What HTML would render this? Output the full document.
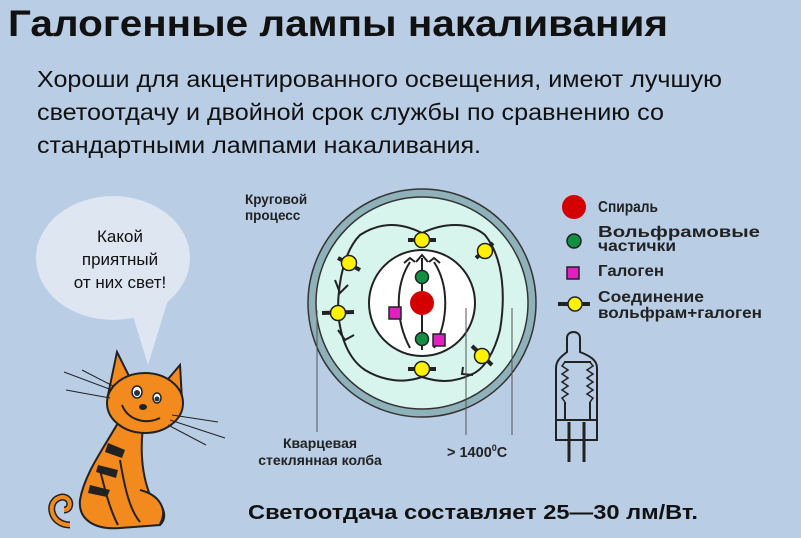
<!DOCTYPE html>
<html><head><meta charset="utf-8"><style>
body{margin:0;width:801px;height:538px;background:#b9cde5;overflow:hidden;font-family:"Liberation Sans","DejaVu Sans",sans-serif}
svg{position:absolute;left:0;top:0}
</style></head><body>
<svg width="801" height="538" xmlns="http://www.w3.org/2000/svg" font-family="'Liberation Sans','DejaVu Sans',sans-serif">
<text x="8" y="36" font-size="37" font-weight="bold" fill="#111" textLength="660" lengthAdjust="spacingAndGlyphs">Галогенные лампы накаливания</text>
<g font-size="23" fill="#111">
<text x="37" y="87" textLength="685" lengthAdjust="spacingAndGlyphs">Хороши для акцентированного освещения, имеют лучшую</text>
<text x="37" y="120" textLength="627" lengthAdjust="spacingAndGlyphs">светоотдачу и двойной срок службы по сравнению со</text>
<text x="37" y="153" textLength="444" lengthAdjust="spacingAndGlyphs">стандартными лампами накаливания.</text>
</g>

<!-- bubble -->
<ellipse cx="113" cy="258" rx="77" ry="62" fill="#dde6f1"/>
<polygon points="128,300 168,300 148,365" fill="#dde6f1"/>
<text font-size="17" fill="#111" text-anchor="middle"><tspan x="120" y="242">Какой</tspan><tspan x="120" y="265">приятный</tspan><tspan x="120" y="288">от них свет!</tspan></text>

<!-- cat -->
<g stroke="#222" stroke-width="2" fill="#f28a1e">
<path d="M70,525 C50,525 45,500 62,497 C72,497 72,510 64,510" fill="none" stroke-width="7" stroke="#222"/>
<path d="M70,525 C50,525 45,500 62,497 C72,497 72,510 64,510" fill="none" stroke-width="4" stroke="#f28a1e"/>
<path d="M125,410 C110,440 85,470 80,500 C78,520 95,530 120,528 L160,525 C170,515 160,500 150,495 C140,470 140,440 145,415 Z"/>
<path d="M100,470 C105,490 110,510 118,525 M120,460 C125,490 130,510 140,522"/>
<path d="M140,490 C160,495 168,510 160,524"/>
<path d="M108,395 L117,352 L130,378 Z"/>
<path d="M163,385 L180,365 L182,400 Z"/>
<ellipse cx="145" cy="403" rx="38" ry="30"/>
</g>
<g fill="#222"><path d="M108,443 L125,450 L122,458 L105,452 Z"/><path d="M98,465 L118,470 L116,478 L96,472Z"/><path d="M90,485 L110,490 L107,497 L88,493Z"/></g>
<ellipse cx="137" cy="392" rx="5" ry="6" fill="#fff" stroke="#222" stroke-width="1.5"/><circle cx="137" cy="393" r="3" fill="#234"/>
<ellipse cx="157" cy="398" rx="4" ry="5" fill="#fff" stroke="#222" stroke-width="1.5"/><circle cx="157" cy="399" r="2.5" fill="#234"/>
<ellipse cx="143" cy="407" rx="4" ry="3" fill="#222"/>
<path d="M122,405 C128,420 145,425 160,418" fill="none" stroke="#222" stroke-width="2"/>
<g stroke="#222" stroke-width="1"><line x1="64" y1="372" x2="112" y2="390"/><line x1="82" y1="370" x2="113" y2="386"/><line x1="66" y1="390" x2="110" y2="398"/><line x1="172" y1="415" x2="218" y2="422"/><line x1="170" y1="420" x2="225" y2="438"/><line x1="168" y1="425" x2="206" y2="445"/></g>

<!-- diagram -->
<text font-size="13.5" fill="#222" font-weight="bold"><tspan x="245" y="204">Круговой</tspan><tspan x="245" y="220">процесс</tspan></text>
<circle cx="422" cy="303" r="110" fill="#d7f5ec" stroke="#8fb1b9" stroke-width="7"/>
<circle cx="422" cy="303" r="114" fill="none" stroke="#333" stroke-width="1.5"/>
<circle cx="422" cy="303" r="106" fill="none" stroke="#333" stroke-width="1.5"/>
<circle cx="422" cy="303" r="53" fill="#fff" stroke="#222" stroke-width="2"/>
<g fill="none" stroke="#222" stroke-width="2">
<path d="M422,233 C400,222 380,222 360,235 C345,250 338,280 338,310 C340,340 350,360 365,370 C385,382 405,383 422,377"/>
<path d="M422,233 C445,222 470,222 485,235 C505,260 505,300 500,330 C495,350 485,370 470,375 C455,382 440,383 422,377"/>
<line x1="422" y1="258" x2="422" y2="350"/>
<path d="M410,262 C395,285 395,320 410,348"/>
<path d="M434,262 C449,285 449,320 434,348"/>
<path d="M404,263 L410,258 L415,262 M416,262 L422,255 L428,262 M429,262 L434,258 L440,263"/>
<path d="M335,280 L340,293 L348,285 M338,330 L345,340 L354,335 M463,367 L462,374 L473,375"/>
</g>
<g stroke="#222" stroke-width="4">
<line x1="408" y1="240" x2="436" y2="240"/><line x1="408" y1="369" x2="436" y2="369"/>
<line x1="338" y1="258" x2="360" y2="270"/><line x1="476" y1="258" x2="493" y2="243"/>
<line x1="322" y1="313" x2="354" y2="312"/><line x1="472" y1="346" x2="492" y2="365"/>
</g>
<g fill="#fff200" stroke="#222" stroke-width="1.5">
<circle cx="422" cy="240" r="7.5"/><circle cx="422" cy="369" r="7.5"/><circle cx="349" cy="263" r="7.5"/><circle cx="485" cy="251" r="7.5"/><circle cx="338" cy="313" r="7.5"/><circle cx="482" cy="356" r="7.5"/>
</g>
<circle cx="422" cy="303" r="12" fill="#d40000"/>
<circle cx="422" cy="277" r="6.5" fill="#109040" stroke="#222" stroke-width="1.5"/>
<circle cx="422" cy="339" r="6.5" fill="#109040" stroke="#222" stroke-width="1.5"/>
<rect x="389" y="307" width="12" height="12" fill="#e020c0" stroke="#222" stroke-width="1.5"/>
<rect x="433" y="334" width="12" height="12" fill="#e020c0" stroke="#222" stroke-width="1.5"/>
<g stroke="#555" stroke-width="1"><line x1="317" y1="310" x2="317" y2="432"/><line x1="466" y1="308" x2="466" y2="435"/><line x1="512" y1="308" x2="512" y2="435"/></g>
<text font-size="14" fill="#222" font-weight="bold" text-anchor="middle"><tspan x="320" y="448">Кварцевая</tspan><tspan x="320" y="465">стеклянная колба</tspan></text>
<text x="447" y="457" font-size="14.5" fill="#222" font-weight="bold">&gt; 1400<tspan font-size="9" dy="-6">0</tspan><tspan dy="6">C</tspan></text>

<!-- legend -->
<circle cx="574" cy="207" r="12" fill="#d40000"/>
<circle cx="574" cy="241" r="7" fill="#109040" stroke="#222" stroke-width="1.5"/>
<rect x="567" y="267" width="12" height="12" fill="#e020c0" stroke="#222" stroke-width="1.5"/>
<line x1="558" y1="304" x2="590" y2="304" stroke="#222" stroke-width="4"/>
<circle cx="575" cy="304" r="7" fill="#fff200" stroke="#222" stroke-width="1.5"/>
<g font-size="15.5" font-weight="bold" fill="#222">
<text x="598" y="212" textLength="60" lengthAdjust="spacingAndGlyphs">Спираль</text>
<text x="598" y="237" textLength="162" lengthAdjust="spacingAndGlyphs">Вольфрамовые</text>
<text x="598" y="251" textLength="78" lengthAdjust="spacingAndGlyphs">частички</text>
<text x="598" y="276" textLength="66" lengthAdjust="spacingAndGlyphs">Галоген</text>
<text x="598" y="302" textLength="106" lengthAdjust="spacingAndGlyphs">Соединение</text>
<text x="598" y="318" textLength="164" lengthAdjust="spacingAndGlyphs">вольфрам+галоген</text>
</g>
<g fill="none" stroke="#222" stroke-width="2">
<path d="M567,352 L567,338 C567,330 580,330 580,338 L580,352 C590,356 597,360 597,368 L597,440 L556,440 L556,368 C556,360 562,356 567,352 Z"/>
<path d="M564,362 L591,362"/>
<path d="M565,362 l-3,4 l6,4 l-6,4 l6,4 l-6,4 l6,4 l-6,4 l6,4 l-6,4 l3,4 M590,362 l3,4 l-6,4 l6,4 l-6,4 l6,4 l-6,4 l6,4 l-6,4 l6,4 l-3,4" stroke-width="1.5"/>
<line x1="565" y1="402" x2="565" y2="420"/><line x1="590" y1="402" x2="590" y2="420"/>
<line x1="556" y1="420" x2="597" y2="420"/>
<line x1="569" y1="422" x2="569" y2="462" stroke-width="3"/><line x1="584" y1="422" x2="584" y2="462" stroke-width="3"/>
</g>

<text x="248" y="519" font-size="20" font-weight="bold" fill="#111" textLength="450" lengthAdjust="spacingAndGlyphs">Светоотдача составляет 25—30 лм/Вт.</text>
</svg>
</body></html>
